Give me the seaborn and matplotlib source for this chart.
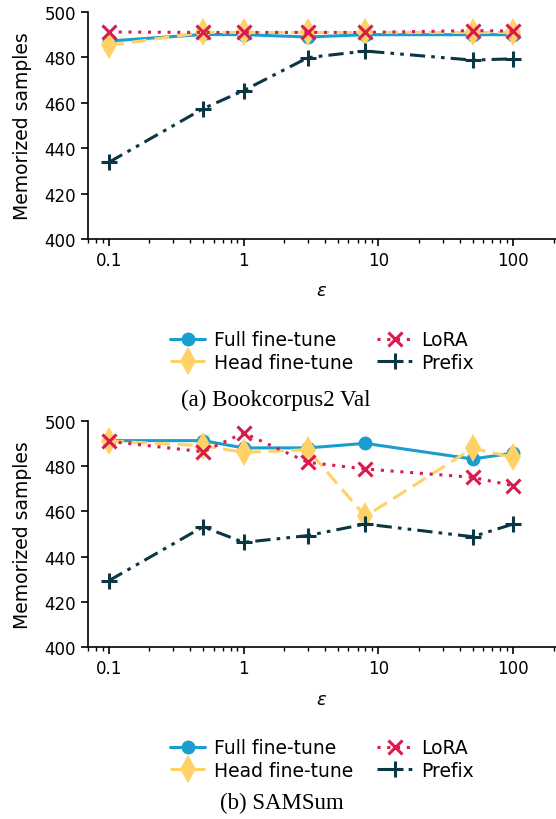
import numpy as np
import pandas as pd
import matplotlib
matplotlib.use("Agg")
import matplotlib.pyplot as plt
import seaborn as sns
from matplotlib.lines import Line2D

sns.set_style("ticks")
plt.rcParams['font.family'] = ['DejaVu Sans']
plt.rcParams['text.color'] = 'black'
plt.rcParams['axes.labelcolor'] = 'black'
plt.rcParams['xtick.color'] = 'black'
plt.rcParams['ytick.color'] = 'black'
plt.rcParams['axes.edgecolor'] = 'black'
plt.rcParams['mathtext.fontset'] = 'dejavusans'

epsilons = [0.1, 0.5, 1, 3, 8, 50, 100]
methods = ["Full fine-tune", "Head fine-tune", "LoRA", "Prefix"]

# (a) Bookcorpus2 Val
book_full = [487.2, 490.1, 490.0, 489.0, 490.0, 490.0, 490.0]
book_head = [485.3, 491.0, 491.0, 491.0, 491.0, 491.0, 491.0]
book_lora = [491.2, 491.0, 491.0, 491.0, 491.0, 491.8, 491.6]
book_prefix = [433.8, 457.4, 465.4, 479.9, 482.8, 478.8, 479.4]

# (b) SAMSum
sam_full = [491.2, 491.2, 488.0, 488.0, 490.0, 483.1, 485.7]
sam_head = [491.0, 489.0, 486.0, 487.2, 457.8, 487.8, 483.8]
sam_lora = [490.9, 486.3, 494.6, 481.6, 478.7, 475.0, 471.3]
sam_prefix = [429.4, 453.2, 446.3, 449.3, 454.4, 448.8, 454.4]

captions = ["(a) Bookcorpus2 Val", "(b) SAMSum"]

colors = {"Full fine-tune": "#1a9ecf", "Head fine-tune": "#ffd166",
          "LoRA": "#d81b4f", "Prefix": "#0b3644"}
styles = {
    "Full fine-tune": dict(marker="o", markersize=10, dashes=None, mew=0),
    "Head fine-tune": dict(marker="d", markersize=14, dashes=(5, 2.5), mew=0),
    "LoRA": dict(marker="x", markersize=10, dashes=(1, 2.2), mew=2.2),
    "Prefix": dict(marker="+", markersize=11, dashes=(5, 2, 1.2, 2, 1.2, 2), mew=2.2),
}

fig = plt.figure(figsize=(5.56, 8.20), dpi=100)
W, H = 556, 820
ax_top = fig.add_axes([88 / W, 1 - 240 / H, 1 - 88 / W, 227 / H])
ax_bot = fig.add_axes([88 / W, 1 - 648.3 / H, 1 - 88 / W, 226.6 / H])

datasets = [
    (ax_top, [book_full, book_head, book_lora, book_prefix]),
    (ax_bot, [sam_full, sam_head, sam_lora, sam_prefix]),
]

for ax, series in datasets:
    handles = []
    for m, vals in zip(methods, series):
        st = styles[m]
        df = pd.DataFrame({"eps": epsilons, "val": vals})
        sns.lineplot(data=df, x="eps", y="val", ax=ax, color=colors[m],
                     marker=st["marker"], markersize=st["markersize"],
                     markeredgewidth=st["mew"], markeredgecolor=colors[m],
                     linewidth=2.2, linestyle="-")
        line = ax.lines[-1]
        if st["dashes"] is not None:
            line.set_dashes(st["dashes"])
        h = Line2D([0], [0], color=colors[m], marker=st["marker"],
                   markersize=st["markersize"], markeredgewidth=st["mew"],
                   markeredgecolor=colors[m], linewidth=2.2)
        if st["dashes"] is not None:
            h.set_dashes(st["dashes"])
        handles.append(h)
    ax.set_xscale("log")
    ax.set_xlim(0.07, 208)
    ax.set_ylim(400, 500)
    ax.set_yticks([400, 420, 440, 460, 480, 500])
    ax.set_xticks([0.1, 1, 10, 100])
    ax.set_xticklabels(["0.1", "1", "10", "100"])
    ax.tick_params(axis="both", labelsize=12, length=5, width=1.2)
    ax.tick_params(axis="x", which="minor", length=3, width=1)
    ax.set_xlabel(r"$\varepsilon$", fontsize=13, labelpad=9)
    ax.set_ylabel("Memorized samples", fontsize=13.5, labelpad=9)
    for s in ["top", "right"]:
        ax.spines[s].set_visible(False)
    for s in ["left", "bottom"]:
        ax.spines[s].set_linewidth(1.2)
    ax.legend(handles, methods, ncol=2, loc="upper center",
              bbox_to_anchor=(0.5, -0.36), frameon=False, fontsize=13.5,
              handlelength=1.9, columnspacing=1.3, labelspacing=0.2,
              handletextpad=0.45, borderpad=0)

fig.text(275.5 / W, 1 - 400 / H, captions[0], ha="center", va="center",
         fontsize=16.5, family="Liberation Serif")
fig.text(281.5 / W, 1 - 803 / H, captions[1], ha="center", va="center",
         fontsize=16.5, family="Liberation Serif")

fig.savefig("out.png", dpi=100)
